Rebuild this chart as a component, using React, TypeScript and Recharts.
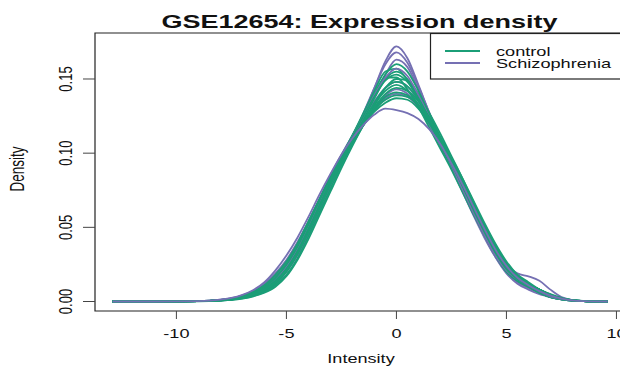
import { LineChart, Line, XAxis, YAxis, ReferenceArea } from 'recharts';

// intensity grid the curves were read at
const intensity = [
  -12.9, -11, -9, -8, -7.5, -7, -6.5, -6, -5.5, -5, -4.5, -4, -3.5, -3, -2.5, -2, -1.5, -1, -0.5, 0,
  0.5, 1, 1.5, 2, 2.5, 3, 3.5, 4, 4.5, 5, 5.5, 6, 6.5, 7, 7.5, 8, 8.5, 9.6,
];

// control samples
const ctl1 = [0, 0, 0.0002, 0.0007, 0.0013, 0.0025, 0.0042, 0.007, 0.012, 0.02, 0.032, 0.047, 0.063, 0.079, 0.094, 0.109, 0.124, 0.139, 0.153, 0.16, 0.155, 0.142, 0.126, 0.11, 0.094, 0.078, 0.062, 0.046, 0.032, 0.021, 0.014, 0.01, 0.006, 0.003, 0.0015, 0.0006, 0.0002, 0];
const ctl2 = [0, 0, 0.0002, 0.0008, 0.0015, 0.003, 0.005, 0.008, 0.014, 0.022, 0.034, 0.049, 0.065, 0.08, 0.095, 0.109, 0.123, 0.137, 0.15, 0.155, 0.15, 0.138, 0.124, 0.109, 0.094, 0.079, 0.063, 0.048, 0.034, 0.022, 0.015, 0.011, 0.007, 0.004, 0.002, 0.0008, 0.0003, 0];
const ctl3 = [0, 0, 0.0001, 0.0006, 0.0011, 0.002, 0.0035, 0.006, 0.01, 0.017, 0.028, 0.042, 0.058, 0.074, 0.09, 0.105, 0.119, 0.132, 0.144, 0.15, 0.149, 0.14, 0.127, 0.113, 0.098, 0.083, 0.067, 0.052, 0.038, 0.026, 0.017, 0.012, 0.008, 0.005, 0.0025, 0.001, 0.0004, 0];
const ctl4 = [0, 0, 0.0003, 0.001, 0.002, 0.0035, 0.006, 0.01, 0.016, 0.025, 0.037, 0.052, 0.068, 0.083, 0.097, 0.11, 0.122, 0.133, 0.142, 0.146, 0.142, 0.133, 0.121, 0.107, 0.092, 0.077, 0.061, 0.046, 0.032, 0.022, 0.016, 0.012, 0.008, 0.004, 0.002, 0.0008, 0.0003, 0];
const ctl5 = [0, 0, 0.0002, 0.0008, 0.0014, 0.0028, 0.0048, 0.008, 0.013, 0.021, 0.033, 0.048, 0.064, 0.08, 0.095, 0.108, 0.12, 0.13, 0.138, 0.141, 0.139, 0.132, 0.122, 0.11, 0.096, 0.081, 0.065, 0.05, 0.036, 0.024, 0.016, 0.011, 0.007, 0.004, 0.002, 0.0008, 0.0003, 0];
const ctl6 = [0, 0, 0.0003, 0.0011, 0.002, 0.004, 0.0068, 0.011, 0.018, 0.027, 0.039, 0.054, 0.069, 0.084, 0.097, 0.109, 0.119, 0.128, 0.134, 0.137, 0.136, 0.13, 0.12, 0.108, 0.095, 0.08, 0.065, 0.05, 0.036, 0.025, 0.018, 0.013, 0.008, 0.0045, 0.002, 0.0009, 0.0003, 0];
const ctl7 = [0, 0, 0.0002, 0.0009, 0.0016, 0.0032, 0.0055, 0.009, 0.015, 0.024, 0.036, 0.051, 0.067, 0.083, 0.098, 0.112, 0.126, 0.14, 0.151, 0.151, 0.143, 0.131, 0.117, 0.103, 0.089, 0.074, 0.059, 0.045, 0.032, 0.021, 0.014, 0.01, 0.006, 0.003, 0.0015, 0.0006, 0.0002, 0];
const ctl8 = [0, 0, 0.0002, 0.0009, 0.0016, 0.003, 0.0052, 0.009, 0.015, 0.023, 0.035, 0.05, 0.066, 0.082, 0.097, 0.112, 0.127, 0.142, 0.155, 0.157, 0.149, 0.136, 0.121, 0.106, 0.091, 0.076, 0.06, 0.045, 0.031, 0.02, 0.014, 0.01, 0.006, 0.003, 0.0015, 0.0006, 0.0002, 0];
const ctl9 = [0, 0, 0.0002, 0.0007, 0.0012, 0.0022, 0.0038, 0.0065, 0.011, 0.018, 0.029, 0.044, 0.06, 0.076, 0.092, 0.106, 0.119, 0.131, 0.14, 0.144, 0.142, 0.135, 0.124, 0.111, 0.097, 0.082, 0.066, 0.051, 0.037, 0.025, 0.017, 0.012, 0.008, 0.0045, 0.002, 0.0009, 0.0003, 0];
const ctl10 = [0, 0, 0.0003, 0.001, 0.0018, 0.0034, 0.0058, 0.0095, 0.016, 0.025, 0.037, 0.052, 0.068, 0.083, 0.097, 0.111, 0.125, 0.138, 0.149, 0.153, 0.148, 0.137, 0.123, 0.108, 0.093, 0.078, 0.062, 0.047, 0.033, 0.022, 0.015, 0.011, 0.007, 0.004, 0.002, 0.0008, 0.0003, 0];
const ctl11 = [0, 0, 0.0002, 0.0008, 0.0015, 0.003, 0.005, 0.0085, 0.014, 0.022, 0.034, 0.049, 0.065, 0.081, 0.095, 0.108, 0.119, 0.129, 0.136, 0.139, 0.138, 0.132, 0.122, 0.11, 0.097, 0.083, 0.068, 0.053, 0.039, 0.027, 0.018, 0.012, 0.008, 0.0045, 0.002, 0.0009, 0.0003, 0];
const ctl12 = [0, 0, 0.0002, 0.0008, 0.0014, 0.0027, 0.0046, 0.0078, 0.013, 0.021, 0.032, 0.047, 0.063, 0.079, 0.094, 0.108, 0.121, 0.134, 0.144, 0.148, 0.145, 0.136, 0.123, 0.109, 0.094, 0.079, 0.064, 0.049, 0.035, 0.024, 0.017, 0.012, 0.008, 0.0045, 0.002, 0.0008, 0.0003, 0];

// schizophrenia samples
const scz1 = [0, 0, 0.0002, 0.0007, 0.0013, 0.0025, 0.0042, 0.007, 0.012, 0.02, 0.031, 0.045, 0.061, 0.077, 0.093, 0.109, 0.126, 0.144, 0.162, 0.172, 0.164, 0.146, 0.127, 0.109, 0.092, 0.075, 0.059, 0.044, 0.03, 0.019, 0.012, 0.008, 0.005, 0.003, 0.0015, 0.0006, 0.0002, 0];
const scz2 = [0, 0, 0.0002, 0.0008, 0.0014, 0.0028, 0.0048, 0.008, 0.013, 0.021, 0.032, 0.046, 0.062, 0.078, 0.094, 0.11, 0.127, 0.144, 0.16, 0.168, 0.161, 0.145, 0.127, 0.11, 0.093, 0.076, 0.06, 0.045, 0.031, 0.02, 0.013, 0.009, 0.006, 0.003, 0.0015, 0.0006, 0.0002, 0];
const scz3 = [0, 0, 0.0002, 0.0008, 0.0014, 0.0028, 0.0048, 0.008, 0.013, 0.021, 0.033, 0.047, 0.063, 0.079, 0.094, 0.109, 0.124, 0.139, 0.153, 0.163, 0.158, 0.143, 0.126, 0.109, 0.093, 0.077, 0.061, 0.046, 0.032, 0.021, 0.014, 0.01, 0.007, 0.004, 0.002, 0.0008, 0.0003, 0];
const scz4 = [0, 0, 0.0003, 0.0012, 0.0022, 0.0042, 0.0072, 0.012, 0.019, 0.028, 0.04, 0.054, 0.069, 0.083, 0.096, 0.108, 0.119, 0.13, 0.139, 0.143, 0.14, 0.131, 0.119, 0.105, 0.09, 0.075, 0.06, 0.046, 0.034, 0.025, 0.019, 0.017, 0.014, 0.008, 0.003, 0.001, 0.0004, 0];
const scz5 = [0, 0, 0.0003, 0.0013, 0.0024, 0.0045, 0.0078, 0.013, 0.021, 0.031, 0.043, 0.057, 0.072, 0.086, 0.099, 0.11, 0.119, 0.126, 0.13, 0.129, 0.127, 0.123, 0.116, 0.106, 0.093, 0.079, 0.064, 0.049, 0.035, 0.024, 0.016, 0.011, 0.007, 0.004, 0.002, 0.0008, 0.0003, 0];
const scz6 = [0, 0, 0.0002, 0.001, 0.0018, 0.0035, 0.006, 0.01, 0.017, 0.026, 0.038, 0.053, 0.069, 0.085, 0.099, 0.112, 0.124, 0.135, 0.144, 0.148, 0.145, 0.135, 0.121, 0.106, 0.09, 0.074, 0.058, 0.043, 0.03, 0.02, 0.013, 0.009, 0.006, 0.003, 0.0015, 0.0006, 0.0002, 0];
const scz7 = [0, 0, 0.0002, 0.0009, 0.0016, 0.0031, 0.0053, 0.009, 0.015, 0.023, 0.035, 0.05, 0.066, 0.082, 0.097, 0.111, 0.125, 0.139, 0.151, 0.157, 0.152, 0.139, 0.124, 0.108, 0.092, 0.076, 0.06, 0.045, 0.031, 0.021, 0.015, 0.011, 0.007, 0.0035, 0.0017, 0.0007, 0.0002, 0];
const scz8 = [0, 0, 0.0003, 0.0011, 0.002, 0.0038, 0.0065, 0.011, 0.018, 0.027, 0.039, 0.053, 0.068, 0.082, 0.096, 0.108, 0.119, 0.129, 0.137, 0.14, 0.138, 0.131, 0.12, 0.107, 0.093, 0.078, 0.063, 0.048, 0.034, 0.023, 0.016, 0.012, 0.008, 0.0045, 0.002, 0.0009, 0.0003, 0];

const groups = ['control', 'Schizophrenia'];
const groupColors = ['#1B9E77', '#7570B3'];
const xTicks = [-10, -5, 0, 5, 10];
const yTicks = [0, 0.05, 0.1, 0.15];

// draw order: most purple under the green, a few on top
const series = [
  { key: 'scz1', values: scz1, group: 1 },
  { key: 'scz2', values: scz2, group: 1 },
  { key: 'scz3', values: scz3, group: 1 },
  { key: 'scz4', values: scz4, group: 1 },
  { key: 'scz6', values: scz6, group: 1 },
  { key: 'scz8', values: scz8, group: 1 },
  { key: 'ctl1', values: ctl1, group: 0 },
  { key: 'ctl2', values: ctl2, group: 0 },
  { key: 'ctl3', values: ctl3, group: 0 },
  { key: 'ctl4', values: ctl4, group: 0 },
  { key: 'ctl5', values: ctl5, group: 0 },
  { key: 'ctl6', values: ctl6, group: 0 },
  { key: 'ctl7', values: ctl7, group: 0 },
  { key: 'ctl8', values: ctl8, group: 0 },
  { key: 'scz7', values: scz7, group: 1 },
  { key: 'ctl9', values: ctl9, group: 0 },
  { key: 'ctl10', values: ctl10, group: 0 },
  { key: 'ctl11', values: ctl11, group: 0 },
  { key: 'ctl12', values: ctl12, group: 0 },
  { key: 'scz5', values: scz5, group: 1 },
];

const data = intensity.map((x, i) => {
  const row: Record<string, number> = { x };
  series.forEach((s) => {
    row[s.key] = s.values[i];
  });
  return row;
});

const X_DOMAIN = [-13.7, 10.48];
const Y_DOMAIN = [-0.0064, 0.181];
const FONT = '"Liberation Sans", Arial, Helvetica, sans-serif';
const SX = 1.45; // the original picture is stretched sideways

function XTick(props: any) {
  const { x, y, payload } = props;
  return (
    <g transform={`translate(${x},${y + 17}) scale(${SX},1)`}>
      <text textAnchor="middle" fontSize={12.5} fontFamily={FONT} fill="#111">
        {payload.value}
      </text>
    </g>
  );
}

function YTick(props: any) {
  const { x, y, payload } = props;
  return (
    <g transform={`translate(${x - 16},${y}) scale(${SX},1) rotate(-90)`}>
      <text textAnchor="middle" dominantBaseline="central" fontSize={13} fontFamily={FONT} fill="#111">
        {Number(payload.value).toFixed(2)}
      </text>
    </g>
  );
}

export default function App() {
  return (
    <div style={{ position: 'absolute', left: 0, top: 0, width: 620, height: 369, overflow: 'hidden', background: '#fff' }}>
      <LineChart
        width={640}
        height={369}
        data={data}
        margin={{ top: 33, right: 13, left: 0, bottom: 0 }}
      >
        <XAxis
          type="number"
          dataKey="x"
          domain={X_DOMAIN}
          ticks={xTicks}
          allowDataOverflow
          axisLine={false}
          tickLine={{ stroke: '#444' }}
          tickSize={8}
          height={58}
          tick={<XTick />}
        />
        <YAxis
          type="number"
          domain={Y_DOMAIN}
          ticks={yTicks}
          allowDataOverflow
          axisLine={false}
          tickLine={{ stroke: '#444' }}
          tickSize={12}
          width={95}
          tick={<YTick />}
        />
        <ReferenceArea
          x1={X_DOMAIN[0]}
          x2={X_DOMAIN[1]}
          y1={Y_DOMAIN[0]}
          y2={Y_DOMAIN[1]}
          fill="none"
          stroke="#222"
          strokeWidth={1.2}
          ifOverflow="visible"
        />
        {series.map((s) => (
          <Line
            key={s.key}
            type="monotone"
            dataKey={s.key}
            stroke={groupColors[s.group]}
            strokeWidth={1.8}
            dot={false}
            activeDot={false}
            isAnimationActive={false}
          />
        ))}
      </LineChart>
      <svg
        width={620}
        height={369}
        style={{ position: 'absolute', left: 0, top: 0, pointerEvents: 'none' }}
      >
        <g transform={`translate(359.5,28) scale(1.5,1)`}>
          <text textAnchor="middle" fontSize={18} fontWeight="bold" fontFamily={FONT} fill="#111">
            GSE12654: Expression density
          </text>
        </g>
        <g transform={`translate(361,363) scale(${SX},1)`}>
          <text textAnchor="middle" fontSize={12.5} fontFamily={FONT} fill="#111">
            Intensity
          </text>
        </g>
        <g transform={`translate(18,169) scale(${SX},1) rotate(-90)`}>
          <text textAnchor="middle" dominantBaseline="central" fontSize={13.5} fontFamily={FONT} fill="#111">
            Density
          </text>
        </g>
        <rect x={430.5} y={33.5} width={200} height={45.5} fill="#fff" stroke="#222" strokeWidth={1.2} />
        {groups.map((g, i) => (
          <g key={g}>
            <line x1={445} x2={480} y1={51 + i * 12} y2={51 + i * 12} stroke={groupColors[i]} strokeWidth={2} />
            <g transform={`translate(496,${55.5 + i * 12}) scale(1.42,1)`}>
              <text fontSize={12.8} fontFamily={FONT} fill="#111">
                {g}
              </text>
            </g>
          </g>
        ))}
      </svg>
    </div>
  );
}
